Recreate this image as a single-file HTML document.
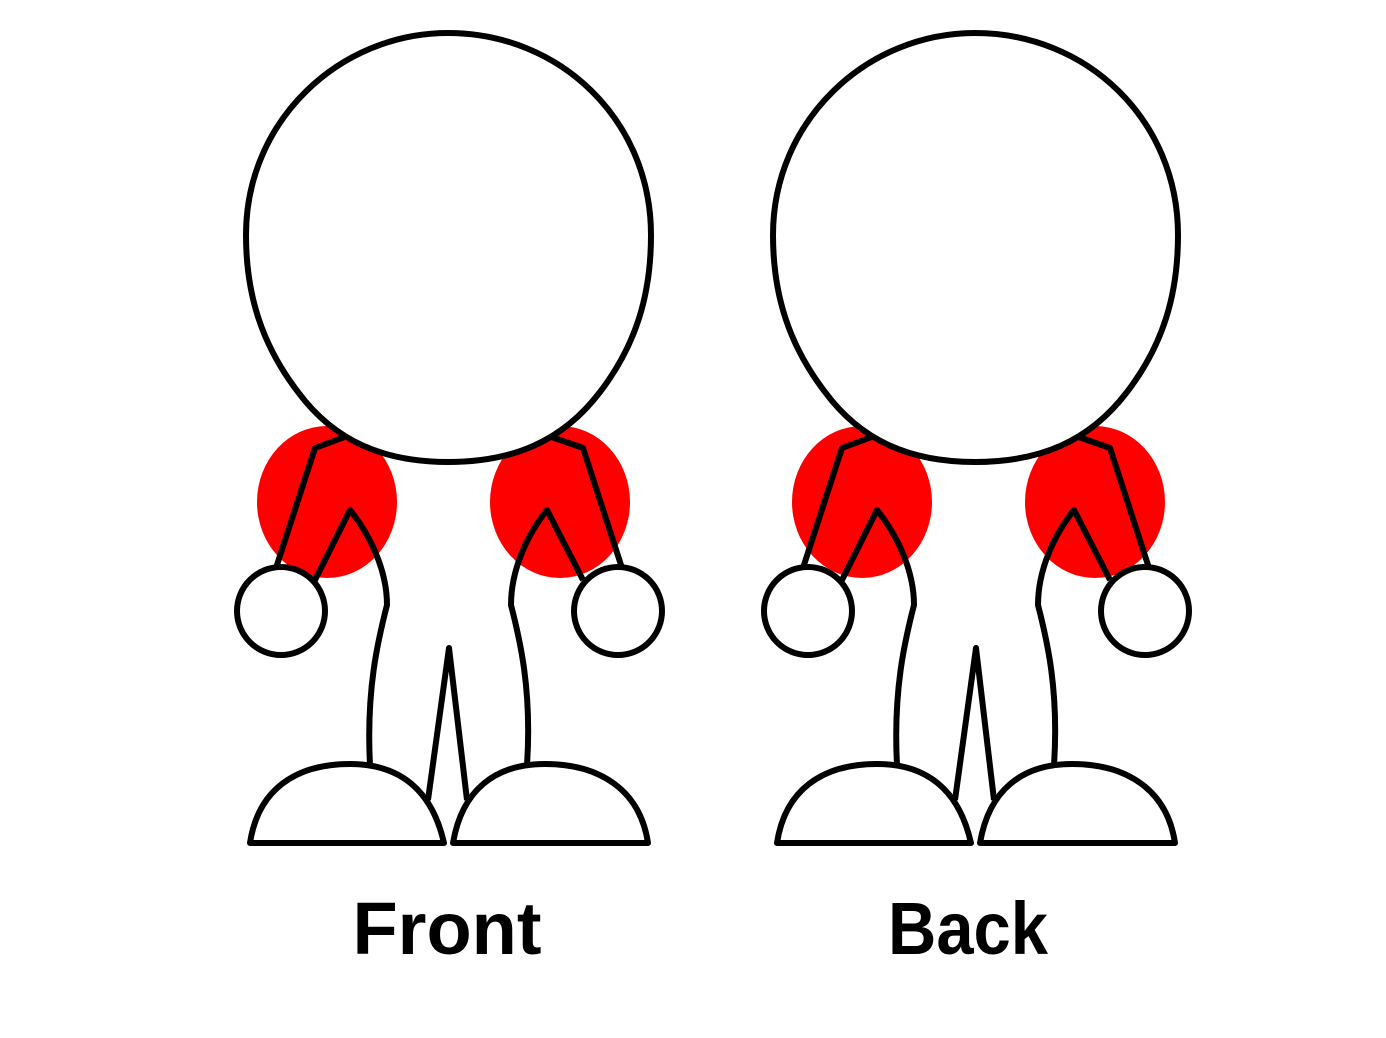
<!DOCTYPE html>
<html><head><meta charset="utf-8"><style>
html,body{margin:0;padding:0;background:#fff}
svg{display:block}
text{font-family:"Liberation Sans",sans-serif;font-weight:bold;font-size:74px;fill:#000}
</style></head><body>
<svg width="1386" height="1038" viewBox="0 0 1386 1038">
<defs>
<g id="fig">
<path d="M350,435 L315,448 L276,568" fill="none" stroke="#000" stroke-width="6" stroke-linejoin="round"/>
<path d="M546,435 L583,448 L622,568" fill="none" stroke="#000" stroke-width="6" stroke-linejoin="round"/>
<path d="M448,462 C385,462 335,442 298,392 C262,345 246,295 246,235 C246,120 340,33 448,33 C560,33 651,120 651,235 C651,295 636,345 600,392 C562,442 512,462 448,462 Z" fill="#fff" stroke="#000" stroke-width="6"/>
<path d="M315,580 L350,510 C370,535 387,570 387,605 C378,640 366,690 370,765" fill="none" stroke="#000" stroke-width="6" stroke-linejoin="round"/>
<path d="M583,580 L547,510 C527,535 511,570 511,605 C520,640 532,690 527,765" fill="none" stroke="#000" stroke-width="6" stroke-linejoin="round"/>
<path d="M428,800 L449,648 L467,800" fill="none" stroke="#000" stroke-width="6" stroke-linejoin="round"/>
<circle cx="281" cy="611" r="44" fill="#fff" stroke="#000" stroke-width="6"/>
<circle cx="618" cy="611" r="44" fill="#fff" stroke="#000" stroke-width="6"/>
<path d="M250,843 C258,790 295,764 350,764 C400,764 432,790 444,843 Z" fill="#fff" stroke="#000" stroke-width="6" stroke-linejoin="round"/>
<path d="M453,843 C462,790 495,764 545,764 C600,764 640,790 648,843 Z" fill="#fff" stroke="#000" stroke-width="6" stroke-linejoin="round"/>
</g>
</defs>
<g>
<ellipse cx="327" cy="502" rx="70" ry="76" fill="#ff0000"/>
<ellipse cx="560" cy="502" rx="70" ry="76" fill="#ff0000"/>
<use href="#fig"/>
</g>
<g>
<ellipse cx="862" cy="502" rx="70" ry="76" fill="#ff0000"/>
<ellipse cx="1095" cy="502" rx="70" ry="76" fill="#ff0000"/>
<use href="#fig" transform="translate(527,0)"/>
</g>
<text x="447" y="954" text-anchor="middle">Front</text>
<text x="968" y="954" text-anchor="middle" textLength="160" lengthAdjust="spacingAndGlyphs">Back</text>
</svg>
</body></html>
